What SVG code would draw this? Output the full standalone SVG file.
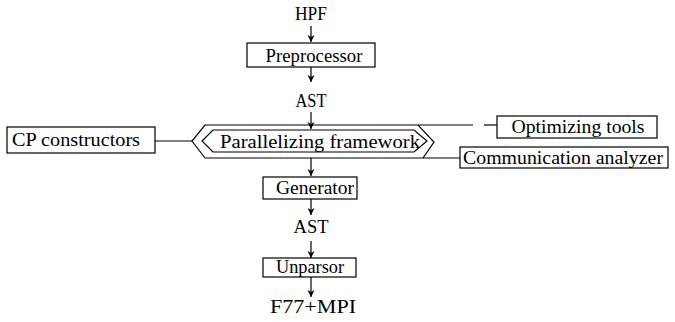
<svg xmlns="http://www.w3.org/2000/svg" width="675" height="322" viewBox="0 0 675 322">
<defs>
<marker id="ah" markerWidth="8" markerHeight="8" refX="7" refY="4" orient="auto" markerUnits="userSpaceOnUse">
<path d="M0,0.5 L7,4 L0,7.5 L2,4 Z" fill="#000"/>
</marker>
</defs>
<style>
text{font-family:"Liberation Serif","Times New Roman",serif;font-size:18px;fill:#000;text-anchor:middle}
.box{fill:#fff;stroke:#000;stroke-width:1.2}
.ln{fill:none;stroke:#000;stroke-width:1.2}
.arr{fill:none;stroke:#000;stroke-width:1.2;marker-end:url(#ah)}
</style>
<rect width="675" height="322" fill="#fff"/>
<g id="connectors">
<line class="arr" x1="311" y1="26" x2="311" y2="42"/>
<line class="arr" x1="311" y1="67" x2="311" y2="82"/>
<line class="arr" x1="311" y1="112" x2="311" y2="129"/>
<line class="arr" x1="311" y1="158" x2="311" y2="176"/>
<line class="arr" x1="311" y1="199" x2="311" y2="215"/>
<line class="arr" x1="311" y1="241" x2="311" y2="258"/>
<line class="arr" x1="311" y1="277" x2="311" y2="297"/>
<line class="ln" x1="155" y1="141" x2="192" y2="141"/>
<line class="ln" x1="418" y1="125" x2="473" y2="125"/>
<line class="ln" x1="484" y1="125" x2="497" y2="125"/>
<line class="ln" x1="423" y1="158" x2="460" y2="158"/>
</g>
<g id="hpf"><text x="311" y="20" textLength="32" lengthAdjust="spacingAndGlyphs">HPF</text></g>
<g id="preprocessor">
<rect class="box" x="247" y="43" width="128" height="24"/>
<text x="314" y="62" textLength="97" lengthAdjust="spacingAndGlyphs">Preprocessor</text>
</g>
<g id="ast1"><text x="311" y="107" textLength="31" lengthAdjust="spacingAndGlyphs">AST</text></g>
<g id="framework">
<path class="ln" d="M205,125 L418,125 L434,142 L423,158 L205,158 L192,141 Z"/>
<path class="ln" d="M213,130 L414,130 L427,141 L414,152 L213,152 L202,141 Z"/>
<text x="320" y="148" textLength="200" lengthAdjust="spacingAndGlyphs">Parallelizing framework</text>
</g>
<g id="cp">
<rect class="box" x="7" y="127" width="148" height="26"/>
<text x="76" y="146" textLength="128" lengthAdjust="spacingAndGlyphs">CP constructors</text>
</g>
<g id="optimizing">
<rect class="box" x="497" y="116" width="160" height="22"/>
<text x="578" y="133" textLength="133" lengthAdjust="spacingAndGlyphs">Optimizing tools</text>
</g>
<g id="communication">
<rect class="box" x="460" y="147" width="208" height="21"/>
<text x="563" y="164" textLength="200" lengthAdjust="spacingAndGlyphs">Communication analyzer</text>
</g>
<g id="generator">
<rect class="box" x="263" y="177" width="94" height="22"/>
<text x="315" y="194" textLength="78" lengthAdjust="spacingAndGlyphs">Generator</text>
</g>
<g id="ast2"><text x="311" y="233" textLength="35" lengthAdjust="spacingAndGlyphs">AST</text></g>
<g id="unparsor">
<rect class="box" x="263" y="258" width="93" height="19"/>
<text x="310" y="273" textLength="68" lengthAdjust="spacingAndGlyphs">Unparsor</text>
</g>
<g id="f77"><text x="313" y="313" textLength="86" lengthAdjust="spacingAndGlyphs">F77+MPI</text></g>
</svg>
